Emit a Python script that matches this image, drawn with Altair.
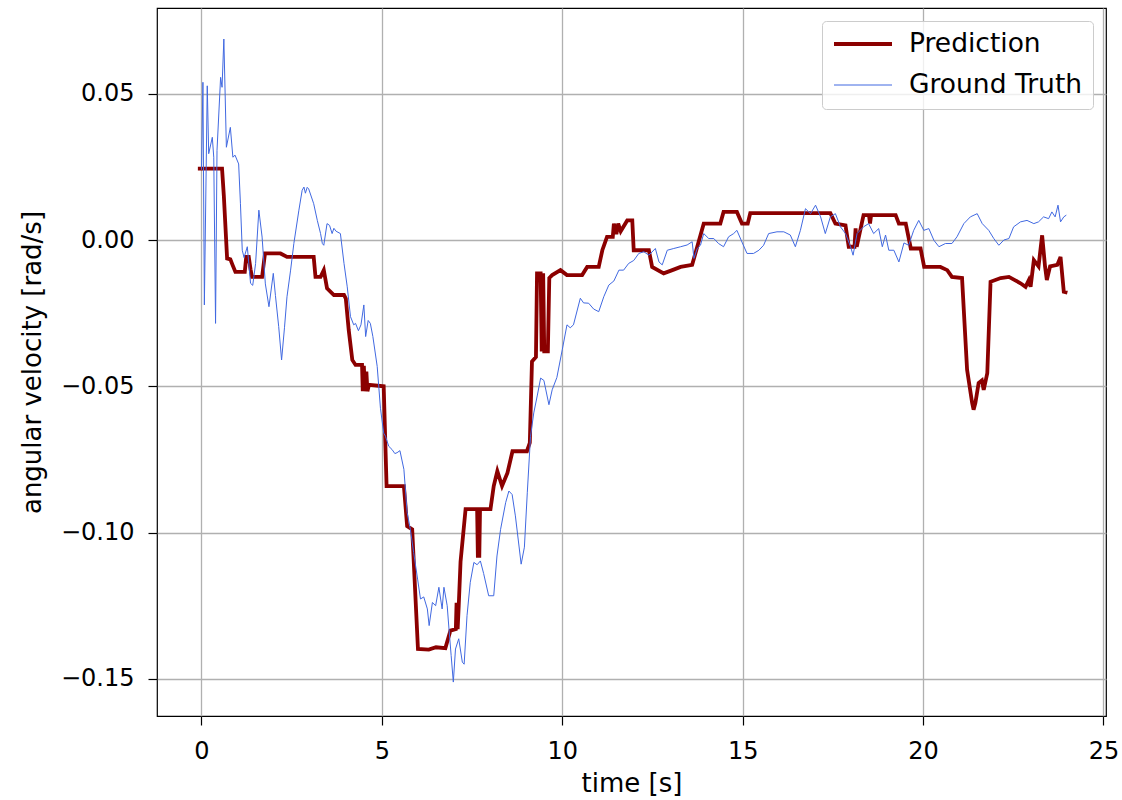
import altair as alt
import pandas as pd

# Network output (piecewise, step-like) : time [s] and angular velocity [rad/s]
pred_t = [-0.10, 0.57, 0.62, 0.71, 0.80, 0.86, 0.94, 1.20, 1.24, 1.31, 1.36, 1.40,
          1.68, 1.76, 2.19, 2.37, 3.11, 3.16, 3.30, 3.39, 3.48, 3.67, 3.95, 4.00,
          4.08, 4.18, 4.27, 4.45, 4.47, 4.50, 4.53, 4.57, 4.60, 4.64, 5.05, 5.13,
          5.61, 5.70, 5.84, 6.00, 6.30, 6.50, 6.76, 6.90, 7.05, 7.07, 7.10, 7.13,
          7.18, 7.32, 7.64, 7.66, 7.70, 7.72, 8.01, 8.10, 8.20, 8.33, 8.48, 8.62,
          9.02, 9.10, 9.16, 9.27, 9.30, 9.40, 9.43, 9.47, 9.50, 9.60, 9.64, 9.72,
          9.95, 10.13, 10.55, 10.69, 11.01, 11.11, 11.24, 11.40, 11.43, 11.50, 11.55, 11.62,
          11.80, 11.94, 11.98, 12.40, 12.49, 12.81, 13.05, 13.28, 13.60, 13.92, 14.38, 14.47,
          14.84, 14.98, 15.14, 15.21, 17.43, 17.57, 17.85, 17.94, 18.10, 18.13, 18.16, 18.35,
          18.50, 18.53, 18.56, 19.24, 19.33, 19.52, 19.66, 19.93, 20.03, 20.48, 20.67, 20.80,
          21.08, 21.22, 21.36, 21.40, 21.45, 21.54, 21.63, 21.68, 21.78, 21.87, 22.15, 22.38,
          22.70, 22.84, 22.93, 22.98, 23.07, 23.20, 23.30, 23.38, 23.43, 23.52, 23.72, 23.81,
          23.90, 24.00]
pred_v = [0.0244, 0.0244, 0.0150, -0.0063, -0.0066, -0.0085, -0.0109, -0.0109, -0.0058, -0.0058, -0.0100, -0.0126,
          -0.0126, -0.0046, -0.0046, -0.0058, -0.0058, -0.0126, -0.0126, -0.0103, -0.0165, -0.0188, -0.0188, -0.0200,
          -0.0307, -0.0410, -0.0427, -0.0427, -0.0517, -0.0430, -0.0517, -0.0450, -0.0517, -0.0495, -0.0500, -0.0841,
          -0.0841, -0.0978, -0.0989, -0.1398, -0.1400, -0.1392, -0.1395, -0.1335, -0.1330, -0.1240, -0.1330, -0.1250,
          -0.1100, -0.0920, -0.0920, -0.1080, -0.1080, -0.0920, -0.0920, -0.0841, -0.0790, -0.0841, -0.0796, -0.0722,
          -0.0722, -0.0693, -0.0415, -0.0400, -0.0114, -0.0114, -0.0381, -0.0114, -0.0381, -0.0381, -0.0130, -0.0120,
          -0.0103, -0.0120, -0.0120, -0.0092, -0.0092, -0.0035, 0.0011, 0.0011, 0.0056, 0.0020, 0.0056, 0.0030,
          0.0067, 0.0067, -0.0035, -0.0035, -0.0092, -0.0114, -0.0103, -0.0092, -0.0085, 0.0056, 0.0056, 0.0096,
          0.0096, 0.0056, 0.0056, 0.0092, 0.0092, 0.0056, 0.0050, -0.0023, -0.0023, 0.0040, -0.0023, 0.0085,
          0.0085, 0.0056, 0.0085, 0.0085, 0.0056, 0.0056, -0.0029, -0.0029, -0.0092, -0.0092, -0.0103, -0.0126,
          -0.0130, -0.0444, -0.0557, -0.0580, -0.0557, -0.0489, -0.0480, -0.0512, -0.0455, -0.0143, -0.0130, -0.0126,
          -0.0148, -0.0160, -0.0137, -0.0160, -0.0069, -0.0090, 0.0016, -0.0090, -0.0137, -0.0090, -0.0085, -0.0058,
          -0.0177, -0.0180]

# Measured reference signal
gt_t = [0.00, 0.04, 0.08, 0.16, 0.20, 0.30, 0.34, 0.39, 0.43, 0.53, 0.57, 0.62,
        0.69, 0.80, 0.87, 0.93, 1.03, 1.08, 1.13, 1.18, 1.27, 1.36, 1.42, 1.50,
        1.59, 1.68, 1.77, 1.87, 1.99, 2.05, 2.14, 2.22, 2.30, 2.37, 2.47, 2.56,
        2.70, 2.79, 2.84, 2.88, 2.93, 2.97, 3.11, 3.21, 3.30, 3.35, 3.39, 3.48,
        3.55, 3.62, 3.67, 3.73, 3.85, 3.95, 4.04, 4.13, 4.22, 4.27, 4.35, 4.42,
        4.50, 4.55, 4.62, 4.68, 4.75, 4.87, 4.96, 5.05, 5.10, 5.19, 5.28, 5.36,
        5.42, 5.50, 5.61, 5.70, 5.79, 5.88, 5.99, 6.07, 6.16, 6.26, 6.31, 6.40,
        6.49, 6.58, 6.67, 6.72, 6.81, 6.86, 6.92, 6.98, 7.04, 7.13, 7.23, 7.28,
        7.36, 7.45, 7.55, 7.64, 7.73, 7.82, 7.96, 8.10, 8.19, 8.29, 8.43, 8.52,
        8.61, 8.70, 8.80, 8.86, 8.95, 9.03, 9.12, 9.21, 9.31, 9.40, 9.49, 9.63,
        9.72, 9.85, 10.00, 10.13, 10.22, 10.31, 10.50, 10.59, 10.73, 10.87, 11.01, 11.15,
        11.29, 11.43, 11.57, 11.70, 11.84, 11.98, 12.12, 12.26, 12.40, 12.58, 12.68, 12.77,
        12.91, 13.09, 13.28, 13.46, 13.60, 13.65, 13.74, 13.83, 13.92, 14.06, 14.20, 14.33,
        14.47, 14.61, 14.75, 14.84, 14.98, 15.12, 15.30, 15.45, 15.58, 15.72, 15.95, 16.14,
        16.32, 16.46, 16.60, 16.74, 16.88, 17.02, 17.16, 17.29, 17.43, 17.57, 17.71, 17.85,
        17.99, 18.06, 18.17, 18.35, 18.49, 18.63, 18.77, 18.87, 18.96, 19.05, 19.19, 19.33,
        19.47, 19.60, 19.74, 19.88, 20.02, 20.16, 20.30, 20.44, 20.62, 20.80, 20.94, 21.13,
        21.31, 21.50, 21.64, 21.82, 21.96, 22.10, 22.24, 22.38, 22.51, 22.70, 22.88, 23.07,
        23.20, 23.34, 23.48, 23.57, 23.66, 23.74, 23.81, 23.90, 23.97]
gt_v = [0.0240, 0.0539, -0.0222, 0.0527, 0.0295, 0.0351, 0.0283, -0.0285, 0.0306, 0.0556, 0.0522, 0.0687,
        0.0317, 0.0385, 0.0283, 0.0290, 0.0260, 0.0124, -0.0035, -0.0060, -0.0023, -0.0148, -0.0155, -0.0080,
        0.0102, 0.0010, -0.0150, -0.0228, -0.0114, -0.0190, -0.0296, -0.0410, -0.0300, -0.0194, -0.0103, -0.0012,
        0.0102, 0.0170, 0.0181, 0.0160, 0.0180, 0.0175, 0.0124, 0.0067, 0.0022, -0.0012, -0.0018, 0.0056,
        0.0050, 0.0022, 0.0040, 0.0030, 0.0022, -0.0080, -0.0160, -0.0262, -0.0290, -0.0285, -0.0310, -0.0290,
        -0.0222, -0.0330, -0.0275, -0.0285, -0.0330, -0.0432, -0.0575, -0.0660, -0.0671, -0.0705, -0.0716, -0.0730,
        -0.0727, -0.0720, -0.0784, -0.0932, -0.0989, -0.1068, -0.1159, -0.1227, -0.1220, -0.1261, -0.1318, -0.1239,
        -0.1250, -0.1187, -0.1261, -0.1187, -0.1250, -0.1330, -0.1420, -0.1511, -0.1398, -0.1363, -0.1443, -0.1450,
        -0.1284, -0.1170, -0.1102, -0.1110, -0.1097, -0.1140, -0.1216, -0.1216, -0.1080, -0.0989, -0.0898, -0.0858,
        -0.0870, -0.0943, -0.1046, -0.1108, -0.1050, -0.0864, -0.0671, -0.0591, -0.0530, -0.0472, -0.0480, -0.0563,
        -0.0512, -0.0470, -0.0375, -0.0290, -0.0300, -0.0290, -0.0199, -0.0215, -0.0216, -0.0236, -0.0245, -0.0194,
        -0.0154, -0.0140, -0.0103, -0.0103, -0.0080, -0.0070, -0.0046, -0.0040, -0.0052, -0.0029, -0.0075, -0.0085,
        -0.0035, -0.0029, -0.0023, -0.0017, -0.0006, -0.0063, -0.0029, -0.0018, 0.0022, 0.0005, 0.0005, -0.0012,
        -0.0023, 0.0011, 0.0022, 0.0033, -0.0007, -0.0046, -0.0046, -0.0035, -0.0018, 0.0022, 0.0028, 0.0028,
        0.0017, -0.0023, 0.0033, 0.0107, 0.0090, 0.0119, 0.0079, 0.0022, 0.0079, 0.0090, 0.0045, 0.0022,
        -0.0023, -0.0052, 0.0022, 0.0045, 0.0056, 0.0022, 0.0039, -0.0023, 0.0017, -0.0035, -0.0035, -0.0075,
        -0.0010, -0.0018, 0.0033, 0.0067, 0.0033, 0.0039, -0.0001, -0.0023, -0.0012, -0.0012, 0.0011, 0.0056,
        0.0079, 0.0090, 0.0056, 0.0033, 0.0005, -0.0018, 0.0000, 0.0005, 0.0045, 0.0062, 0.0067, 0.0056,
        0.0062, 0.0079, 0.0073, 0.0096, 0.0079, 0.0119, 0.0062, 0.0079, 0.0085]

series_names = ["Prediction", "Ground Truth"]
series_colors = ["#8b0000", "#4169e1"]
series_widths = [3.8, 1.0]

x_ticks = [0, 5, 10, 15, 20, 25]
y_ticks = [-0.15, -0.10, -0.05, 0.00, 0.05]

pred_df = pd.DataFrame({"t": pred_t, "v": pred_v, "series": series_names[0], "i": range(len(pred_t))})
gt_df = pd.DataFrame({"t": gt_t, "v": gt_v, "series": series_names[1], "i": range(len(gt_t))})

FONT = "DejaVu Sans"

x_enc = alt.X(
    "t:Q",
    scale=alt.Scale(domain=[-1.233, 25.07], nice=False, zero=False),
    axis=alt.Axis(values=x_ticks, format="d", title="time [s]", labelFlush=False),
)
y_enc = alt.Y(
    "v:Q",
    scale=alt.Scale(domain=[-0.1627, 0.0793], nice=False, zero=False),
    axis=alt.Axis(values=y_ticks, format=".2f", title="angular velocity [rad/s]"),
)
color_enc = alt.Color(
    "series:N",
    scale=alt.Scale(domain=series_names, range=series_colors),
    legend=alt.Legend(
        title=None,
        orient="none",
        legendX=665,
        legendY=13,
        symbolType="stroke",
        symbolSize=3364,
        labelFont=FONT,
        labelFontSize=26.5,
        labelColor="black",
        labelLimit=400,
        labelOffset=15,
        padding=10,
        clipHeight=26,
        rowPadding=14,
        fillColor="rgba(255,255,255,0.8)",
        strokeColor="#cccccc",
        cornerRadius=4,
    ),
)
width_enc = alt.StrokeWidth(
    "series:N",
    scale=alt.Scale(domain=series_names, range=series_widths),
    legend=alt.Legend(title=None),
)

pred_line = alt.Chart(pred_df).mark_line(interpolate="linear").encode(
    x=x_enc, y=y_enc, color=color_enc, strokeWidth=width_enc, order="i:Q"
)
gt_line = alt.Chart(gt_df).mark_line(interpolate="linear").encode(
    x=x_enc, y=y_enc, color=color_enc, strokeWidth=width_enc, order="i:Q"
)

chart = (
    alt.layer(pred_line, gt_line)
    .properties(
        width=949,
        height=708,
        background="white",
        autosize=alt.AutoSizeParams(type="none"),
        padding={"left": 157, "top": 8, "right": 16, "bottom": 84},
    )
    .configure_view(stroke="black", strokeWidth=1.2)
    .configure_axis(
        domain=False,
        grid=True,
        gridColor="#b0b0b0",
        gridWidth=1.3,
        tickColor="black",
        tickSize=9,
        tickWidth=1.2,
        labelFont=FONT,
        labelFontSize=24,
        labelColor="black",
        labelPadding=14,
        titleFont=FONT,
        titleFontSize=26,
        titleFontWeight="normal",
        titleColor="black",
    )
    .configure_axisX(titlePadding=7)
    .configure_axisY(titlePadding=15)
)

chart.save("out.html", embed_options={"renderer": "svg", "actions": False})
